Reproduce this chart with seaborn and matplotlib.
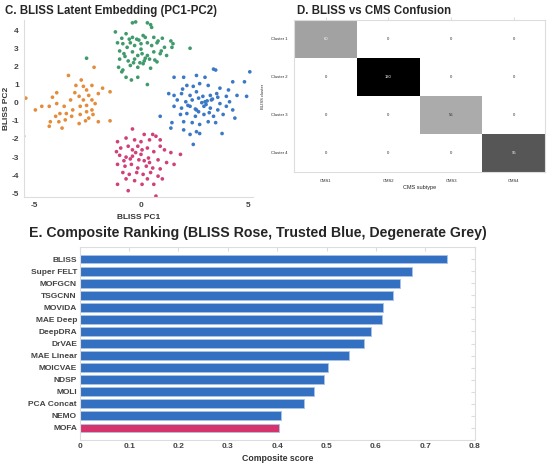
import numpy as np
import pandas as pd
import matplotlib
matplotlib.use('Agg')
import matplotlib.pyplot as plt
import seaborn as sns

# Panel C: latent embedding points
green_x = [-0.4, -0.25, 0.45, 0.5, 0.3, -1.2, -0.7, -0.4, -0.2, 0.1, 0.6, 1.0, 1.4, 1.5, 1.45, 2.3,
           -1.1, -0.85, -0.65, -0.5, -0.3, 0.0, 0.3, 0.5, 0.75, 1.1, -1.0, -0.8, -0.4, -0.15, 0.05,
           0.3, 0.6, 0.9, 1.2, -1.0, -0.6, -0.3, 0.15, 0.4, 0.75, -1.05, -0.85, -0.5, -0.15, 0.1,
           -0.9, -0.7, -0.45, -0.15, 0.3, -2.55, -0.55, -0.1, 0.2, 0.8, -0.9, 0.0, 0.65, -0.35,
           0.2, -0.75, 0.95, 0.45, -0.05]
green_y = [4.4, 4.45, 4.3, 4.15, 4.4, 3.9, 3.8, 3.6, 3.5, 3.7, 3.6, 3.55, 3.4, 3.25, 3.05, 3.0,
           3.3, 3.25, 3.05, 3.3, 3.15, 3.25, 3.3, 3.15, 3.3, 3.05, 2.85, 2.7, 2.8, 2.6, 2.7,
           2.6, 2.8, 2.7, 2.6, 2.4, 2.3, 2.4, 2.3, 2.4, 2.25, 1.95, 1.8, 2.05, 1.95, 2.15,
           1.7, 1.4, 1.25, 1.4, 1.0, 2.45, 3.5, 3.45, 2.45, 3.4, 3.55, 2.95, 2.35, 2.2,
           3.6, 2.55, 2.85, 1.9, 2.2]

blue_x = [5.1, 3.4, 3.5, 1.55, 2.0, 2.6, 3.0, 4.3, 4.85, 2.15, 2.45, 2.75, 3.15, 3.7, 4.1,
          1.3, 1.55, 1.9, 2.3, 2.6, 2.9, 3.25, 3.55, 4.0, 4.5, 4.95, 1.7, 2.1, 2.4, 2.7, 3.0,
          3.3, 3.7, 4.15, 1.55, 1.9, 2.3, 2.6, 2.95, 3.25, 3.6, 4.0, 4.3, 1.85, 2.15, 2.55,
          2.95, 3.4, 3.85, 4.4, 0.9, 1.45, 2.0, 2.4, 2.75, 3.15, 3.5, 1.4, 2.0, 2.3, 2.6, 2.75,
          3.8, 2.45, 2.85, 3.05, 3.35, 2.55, 3.1, 2.2, 3.6, 2.7, 3.2, 1.95]
blue_y = [1.7, 1.85, 1.8, 1.4, 1.4, 1.5, 1.4, 1.15, 1.15, 0.95, 0.9, 1.05, 0.95, 0.8, 0.7,
          0.5, 0.4, 0.5, 0.4, 0.6, 0.35, 0.4, 0.5, 0.35, 0.4, 0.35, 0.15, 0.05, 0.15, 0.25, 0.05,
          0.15, -0.05, 0.05, -0.2, -0.3, -0.2, -0.4, -0.2, -0.3, -0.4, -0.2, -0.4, -0.65, -0.6, -0.75,
          -0.65, -0.75, -0.65, -0.85, -0.75, -1.1, -1.05, -1.1, -1.2, -1.05, -1.1, -1.4, -1.5, -1.75, -1.6, -1.7,
          -1.7, -2.3, 0.0, -0.1, 0.2, -0.35, 0.1, -0.15, 0.3, -0.5, -0.55, 0.75]

orange_x = [-2.2, -3.4, -2.8, -3.95, -3.05, -2.7, -2.3, -1.8, -1.45, -4.95, -4.65, -4.3, -4.15,
            -3.95, -3.6, -3.3, -3.1, -2.9, -2.7, -2.45, -2.3, -2.15, -2.55, -2.85, -3.2, -3.5,
            -3.8, -4.0, -4.25, -4.3, -3.85, -3.55, -3.25, -2.85, -2.55, -2.3, -2.45, -2.25, -2.0,
            -2.6, -2.9, -3.7, -1.45, -2.0, -2.55, -5.4, -5.5]
orange_y = [1.95, 1.5, 1.25, 0.55, 0.95, 0.9, 0.95, 0.8, 0.6, -0.4, -0.2, -0.2, 0.3,
            -0.05, -0.2, 0.15, 0.55, 0.35, 0.15, 0.4, 0.15, -0.05, -0.15, -0.2, -0.4, -0.6,
            -0.6, -0.75, -1.05, -1.3, -1.05, -0.95, -0.75, -0.65, -0.5, -0.4, -0.85, -0.65, -1.05,
            -1.0, -1.15, -1.4, -1.0, 0.5, 0.7, 0.25, -1.85]

pink_x = [-0.4, 0.15, 0.55, 0.7, -0.7, -0.3, -1.1, 0.0, 0.4, 0.9, -1.15, -0.95, -0.6, -0.4,
          -0.15, 0.05, 0.3, 0.6, 1.1, 1.4, 1.85, -1.0, -0.7, -0.4, -0.1, 0.15, 0.35, 0.8, 1.2,
          -1.1, -0.75, -0.45, -0.15, 0.25, 0.55, 0.9, -0.85, -0.55, -0.2, 0.1, 0.45, 0.8, -0.7,
          -0.3, 0.3, 1.0, -1.1, 0.05, 0.6, -0.6, 0.7, 0.9, 1.55, -0.25, 0.0, -0.8, 0.4, -0.5]
pink_y = [-1.45, -1.75, -1.75, -1.85, -1.95, -2.05, -2.15, -2.15, -2.05, -2.05, -2.7, -2.5, -2.4, -2.6,
          -2.4, -2.6, -2.5, -2.7, -2.6, -2.75, -2.85, -2.9, -3.0, -2.95, -3.15, -3.2, -3.05, -3.15, -3.3,
          -3.4, -3.5, -3.4, -3.6, -3.5, -3.6, -3.65, -3.85, -3.95, -3.85, -3.95, -3.85, -4.05, -4.2,
          -4.3, -4.2, -4.2, -4.5, -4.5, -4.5, -4.85, -5.15, -2.4, -3.4, -2.75, -2.85, -3.2, -3.3, -3.1]

# Panel D: confusion counts
clusters = ['Cluster 1', 'Cluster 2', 'Cluster 3', 'Cluster 4']
cms = ['CMS1', 'CMS2', 'CMS3', 'CMS4']
diag_counts = [60, 130, 56, 95]

# Panel E: composite ranking
methods = ['BLISS', 'Super FELT', 'MOFGCN', 'TSGCNN', 'MOViDA', 'MAE Deep', 'DeepDRA', 'DrVAE',
           'MAE Linear', 'MOICVAE', 'NDSP', 'MOLI', 'PCA Concat', 'NEMO', 'MOFA']
scores = [0.744, 0.673, 0.648, 0.634, 0.614, 0.612, 0.590, 0.576, 0.546, 0.503, 0.494, 0.474,
          0.455, 0.407, 0.403]

sns.set_style('white')
plt.rcParams['font.family'] = ['Liberation Sans', 'DejaVu Sans']
plt.rcParams['axes.unicode_minus'] = False

fig = plt.figure(figsize=(5.5, 4.68), dpi=100)
frame_col = '#dddddd'
tick_col = '#444444'

# ---- C: scatter
ax1 = fig.add_axes([0.043, 0.579, 0.417, 0.378])
pts = pd.DataFrame({
    'x': green_x + blue_x + orange_x + pink_x,
    'y': green_y + blue_y + orange_y + pink_y,
    'cluster': ['g'] * len(green_x) + ['b'] * len(blue_x) + ['o'] * len(orange_x) + ['p'] * len(pink_x),
})
pal = {'g': '#3f9b6b', 'b': '#3b78c6', 'o': '#e38d3c', 'p': '#d2407a'}
sns.scatterplot(data=pts, x='x', y='y', hue='cluster', palette=pal, s=7, linewidth=0,
                legend=False, ax=ax1)
ax1.set_xlim(-5.5, 5.25)
ax1.set_ylim(-5.2, 4.55)
ax1.set_xticks([-5, 0, 5])
ax1.set_yticks(range(-5, 5))
ax1.set_xlabel('BLISS PC1', fontsize=6, fontweight='bold', color='#333333', labelpad=4)
ax1.set_ylabel('BLISS PC2', fontsize=6, fontweight='bold', color='#333333', labelpad=1)
ax1.tick_params(labelsize=6, colors=tick_col, length=2, pad=1.5)
ax1.tick_params(color=frame_col)
for t in ax1.get_xticklabels() + ax1.get_yticklabels():
    t.set_fontweight('bold')
for s in ['top', 'right']:
    ax1.spines[s].set_visible(False)
for s in ['left', 'bottom']:
    ax1.spines[s].set_color(frame_col)
    ax1.spines[s].set_linewidth(0.8)
fig.text(0.009, 0.976, 'C. BLISS Latent Embedding (PC1-PC2)', fontsize=8.3, fontweight='bold',
         va='center', ha='left')

# ---- D: confusion heatmap
ax2 = fig.add_axes([0.535, 0.632, 0.456, 0.325])
conf = np.zeros((4, 4), dtype=int)
for i, c in enumerate(diag_counts):
    conf[i, i] = c
conf_df = pd.DataFrame(conf, index=clusters, columns=cms)
sns.heatmap(conf_df, cmap='Greys', vmin=0, vmax=max(diag_counts), cbar=False, annot=True, fmt='d',
            annot_kws={'fontsize': 3}, ax=ax2)
ax2.set_xlabel('CMS subtype', fontsize=4, labelpad=1)
ax2.set_ylabel('BLISS cluster', fontsize=3, labelpad=4)
ax2.tick_params(labelsize=3, length=2, color=frame_col, pad=3, top=True)
plt.setp(ax2.get_yticklabels(), rotation=0)
for s in ax2.spines.values():
    s.set_visible(True)
    s.set_color(frame_col)
    s.set_linewidth(0.8)
fig.text(0.54, 0.976, 'D. BLISS vs CMS Confusion', fontsize=8.3, fontweight='bold',
         va='center', ha='left')

# ---- E: composite ranking bars
ax3 = fig.add_axes([0.145, 0.06, 0.718, 0.412])
bar_cols = ['#d6336c' if m == 'MOFA' else '#3470c2' for m in methods]
rank_df = pd.DataFrame({'method': methods, 'score': scores})
sns.barplot(data=rank_df, y='method', x='score', hue='method', palette=bar_cols, legend=False,
            width=0.72, edgecolor='#a8c4e8', linewidth=0.6, orient='h', saturation=1, ax=ax3)
ax3.set_xlim(0, 0.8)
ax3.set_ylim(len(methods) - 0.0, -1.0)
ax3.set_xticks(np.arange(0, 0.81, 0.1))
ax3.set_xticklabels(['0', '0.1', '0.2', '0.3', '0.4', '0.5', '0.6', '0.7', '0.8'])
ax3.set_xlabel('Composite score', fontsize=6.3, fontweight='bold', color='#333333', labelpad=3)
ax3.set_ylabel('')
ax3.tick_params(labelsize=6, colors=tick_col, length=3, pad=2, top=True, right=True,
                direction='in')
ax3.tick_params(axis='both', color=frame_col)
for t in ax3.get_xticklabels() + ax3.get_yticklabels():
    t.set_fontweight('bold')
for s in ax3.spines.values():
    s.set_color(frame_col)
    s.set_linewidth(0.8)
fig.text(0.468, 0.502, 'E. Composite Ranking (BLISS Rose, Trusted Blue, Degenerate Grey)',
         fontsize=10.2, fontweight='bold', va='center', ha='center')

fig.savefig('out.png', dpi=100)
